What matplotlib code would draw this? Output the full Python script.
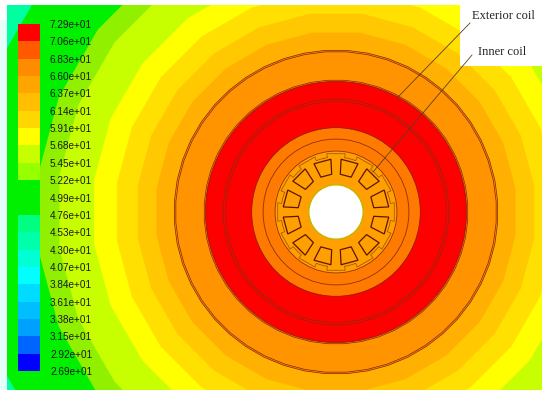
import numpy as np
import matplotlib
matplotlib.use("Agg")
import matplotlib.pyplot as plt
from matplotlib.patches import Polygon, Rectangle, Circle

# colorbar
level_labels = ["7.29e+01", "7.06e+01", "6.83e+01", "6.60e+01", "6.37e+01", "6.14e+01", "5.91e+01",
                "5.68e+01", "5.45e+01", "5.22e+01", "4.99e+01", "4.76e+01", "4.53e+01", "4.30e+01",
                "4.07e+01", "3.84e+01", "3.61e+01", "3.38e+01", "3.15e+01", "2.92e+01", "2.69e+01"]
level_colors = ["#ff0000", "#ff5a00", "#ff8c00", "#ffa500", "#ffbe00", "#ffd700", "#ffff00",
                "#c8ff00", "#96ff00", "#00f000", "#00f000", "#00ff80", "#00ffaa", "#00ffd4",
                "#00ffff", "#00dcff", "#00beff", "#00a0ff", "#0064ff", "#0000ff"]

# temperature bands, outer radius in px from the shaft centre
band_radii = [370, 300, 279, 244, 221, 200, 181, 162, 131, 84, 61]
band_colors = ["#00f000", "#90f000", "#c8ff00", "#ffff00", "#ffe000", "#ffc800", "#ffb000", "#ff9400", "#ff0000", "#ff7a00", "#ffa000"]

# geometry lines
ring_radii = [162, 160.5, 132, 130.5, 113, 110.5, 84.5, 73, 61]
cx, cy = 336, 212
slot_angles = np.arange(15, 360, 30)
tooth_angles = np.arange(0, 360, 30)

fig = plt.figure(figsize=(5.5, 3.97), dpi=100)
ax = fig.add_axes([0, 0, 1, 1])
ax.set_xlim(0, 550)
ax.set_ylim(397, 0)
ax.axis("off")

ax.add_patch(Rectangle((0, 20), 7, 370, color="#e6fffb", lw=0))
frame = Rectangle((7, 5), 535, 385, facecolor="#00ffa0", lw=0)
ax.add_patch(frame)


def ngon(r, n=24):
    a = np.linspace(0, 2 * np.pi, n, endpoint=False) + np.pi / n
    return np.column_stack([cx + r * np.cos(a), cy + r * np.sin(a)])


for r, c in zip(band_radii, band_colors):
    n = 24 if r > 162 else 72
    p = Polygon(ngon(r, n), facecolor=c, lw=0)
    ax.add_patch(p)
    p.set_clip_path(frame)

# shaft
ax.add_patch(Circle((cx, cy), 28, facecolor="#c8b400", lw=0))
ax.add_patch(Circle((cx, cy), 26.5, facecolor="white", lw=0))

for r in ring_radii:
    ax.add_patch(Polygon(ngon(r, 48), fill=False, edgecolor="#8a2a10", lw=0.55))


def polar(r, deg):
    t = np.radians(deg - 90)
    return cx + r * np.cos(t), cy + r * np.sin(t)


# stator slots
for ang in slot_angles:
    pts = [polar(38, ang - 8.5), polar(53, ang - 9.5), polar(53, ang + 9.5), polar(38, ang + 8.5)]
    ax.add_patch(Polygon(pts, closed=True, fill=False, edgecolor="#5a1408", lw=0.9))

# tooth head outline
xs, ys = [], []
for ang in tooth_angles:
    for r, d in [(55, -13), (55, -9), (59, -9), (59, 9), (55, 9), (55, 13)]:
        x, y = polar(r, ang + d)
        xs.append(x)
        ys.append(y)
ax.plot(xs + xs[:1], ys + ys[:1], color="#9a4a10", lw=0.5)

# label box
ax.add_patch(Rectangle((460, 5), 82, 61, facecolor="white", lw=0, zorder=4))
ax.plot([398, 470], [97, 23], color="#5a4020", lw=0.6, zorder=5)
ax.plot([373, 472], [172, 55], color="#5a4020", lw=0.6, zorder=5)
ax.text(503, 16, "Exterior coil", family="Liberation Serif", fontsize=9, ha="center", va="center", color="#222222", zorder=6)
ax.text(502, 52, "Inner coil", family="Liberation Serif", fontsize=9, ha="center", va="center", color="#222222", zorder=6)

# colorbar blocks and labels
top, step = 24, 17.35
for i, c in enumerate(level_colors):
    ax.add_patch(Rectangle((18, top + i * step), 22, step, facecolor=c, lw=0, zorder=3))
for i, lab in enumerate(level_labels):
    ax.text(50, top + 1 + i * step, lab, family="Liberation Sans", fontsize=7.2, ha="left", va="center", color="#1a1a1a", zorder=6)

fig.savefig("out.png", dpi=100)
